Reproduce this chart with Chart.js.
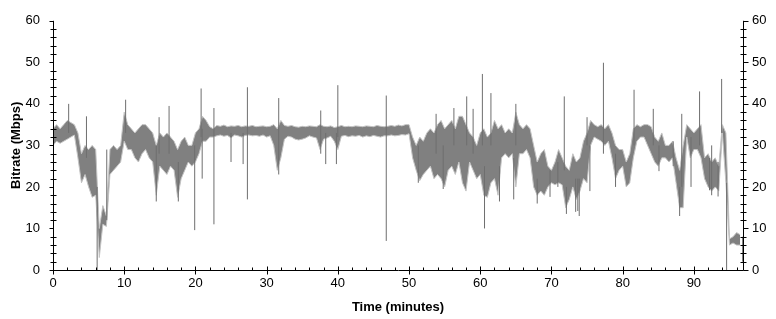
<!DOCTYPE html>
<html>
<head>
<meta charset="utf-8">
<script src="https://cdn.jsdelivr.net/npm/chart.js@4/dist/chart.umd.min.js"></script>
<style>
  html, body { margin: 0; padding: 0; background: #fff; }
  #wrap { width: 776px; height: 319px; position: relative; }
</style>
</head>
<body>
<div id="wrap"><canvas id="bitrateChart"></canvas></div>
<script>
// DONNEES - une valeur toutes les 0.5 minute
const STEP = 0.5;
const TIME_MAX = 96.9;

// bord haut de la bande (Mbps)
const bandHigh = [
  34, 35, 34, 35, 36, 35.5, 35, 33, 28, 30,
  29, 30, 29, 10, 15.5, 13, 29, 30, 29, 30,
  38, 35, 34, 33, 34, 35, 35, 34, 33, 30,
  33, 32, 33, 32, 31, 29, 31, 32, 30, 30,
  33, 34, 37, 36, 34.5, 34, 34.8, 34.6, 34.9, 34.5,
  34.7, 34.6, 34.8, 34.5, 34.7, 34.6, 34.8, 34.5, 34.6, 34.7,
  34.5, 34.6, 35, 34, 36, 34.8, 34.6, 34.8, 34.5, 34.4,
  34.6, 34.5, 34.7, 34.6, 34.5, 35, 34.6, 34.5, 34.7, 34.3,
  34.5, 34.8, 34.5, 34.6, 34.5, 34.7, 34.6, 34.5, 34.7, 34.6,
  34.5, 34.8, 34.6, 34.5, 34.6, 34.8, 34.6, 34.9, 34.7, 35,
  35, 32, 30, 32, 31, 33, 34, 33, 35, 36,
  34, 35, 36, 34, 37, 37, 35, 33, 32, 30,
  33, 34, 32, 33, 36, 34, 35, 33, 34, 33,
  38, 35, 34, 35, 34, 30, 26, 28, 29, 25,
  24, 26, 29, 27, 25, 24, 28, 26, 27, 31,
  33, 36, 35, 34.5, 35, 34, 35, 33, 30, 29,
  29, 26, 28, 34, 35, 34.5, 35, 35, 34.5, 32,
  31, 33, 30, 30, 31, 27, 24, 30, 35, 34,
  33, 34, 35, 27, 28, 26, 27, 25, 35, 33,
  7.5, 8, 9, 8.5
];

// bord bas de la bande (Mbps)
const bandLow = [
  30, 31, 30.5, 31, 31.5, 32, 32.5, 27, 21, 23,
  20, 17.5, 18, 3, 11, 10.5, 23, 24, 25, 26,
  31, 29, 29, 27, 26, 28, 29, 27, 26, 18,
  25, 24, 23, 25, 24, 17.5, 22, 24, 26, 25,
  26, 28, 31, 31, 32, 32, 32.3, 32.5, 32.2, 32.4,
  31.8, 32.5, 32.3, 32.0, 32.4, 32.5, 32.3, 32.4, 32.2, 32.5,
  32.0, 32.3, 30, 24, 27, 31.5, 32.2, 32.0, 31.5, 31.3,
  31.5, 31.8, 32.3, 32.0, 31.8, 29, 31.5, 31.8, 32.2, 31.0,
  29, 32.2, 32.4, 32.1, 32.3, 32.2, 32.4, 32.0, 32.3, 32.1,
  32.4, 32.2, 32.0, 32.3, 32.3, 32.5, 32.3, 32.4, 32.6, 32.5,
  32.8, 27, 24, 21.5, 23, 24, 25, 22, 23, 22,
  20, 24, 25, 23, 26, 21, 19, 26, 24, 22,
  23, 18, 17.5, 21, 22, 18, 27, 28, 27, 28,
  20, 28, 28, 29, 27, 20, 18, 19, 18, 20,
  21, 20.5, 21, 20.5, 15, 17, 20, 17, 19, 22,
  21, 30, 32, 31.5, 31, 30, 31, 27, 22, 24,
  25, 20, 21, 27, 31, 32, 32, 30, 28, 26,
  25, 27, 27, 26, 27, 21, 15, 15, 32, 27,
  29, 29, 27, 22, 20, 19, 20, 19, 33, 21,
  6, 6.5, 6, 6
];

// pics isolés (minute, bas, haut)
const spikeTime = [0.05, 2.2, 4.7, 6.2, 7.55, 10.2, 14.5, 14.9, 16.3, 17.6,
  19.9, 20.8, 20.95, 22.6, 25.0, 26.7, 27.3, 31.7, 37.6, 38.3,
  39.8, 40.0, 46.8, 51.3, 53.8, 54.8, 56.3, 58.1, 59.0, 60.3,
  60.6, 61.5, 62.7, 64.7, 65.0, 68.0, 69.8, 70.9, 71.8, 72.1,
  73.4, 73.7, 73.9, 75.0, 75.4, 77.3, 79.0, 81.6, 84.3, 85.1,
  87.1, 88.0, 88.3, 89.6, 90.8, 92.2, 92.5, 93.4, 93.9, 94.6,
  96.85];
const spikeLow = [0, 33, 27, 0, 12, 33, 16.5, 28, 28, 16.5,
  9.6, 32, 22, 11, 26, 25.5, 17, 23, 28, 25.5,
  25.5, 32, 7, 21, 28, 19.5, 30, 30, 28, 30,
  10, 30, 16.5, 17, 30, 16, 17.6, 20, 24, 13.5,
  14, 14.2, 13, 30, 19, 28, 20, 30, 30, 23.8,
  25, 13, 20, 20, 30, 19.2, 18, 17.7, 33, 0,
  2];
const spikeHigh = [40, 40, 37, 20, 29, 41, 30, 36.8, 39.5, 26,
  30, 43.7, 34, 39, 33, 33, 44, 41.4, 38.4, 33,
  33, 44.5, 42, 30, 37.6, 30, 39, 41.8, 38.8, 47.2,
  25, 42.6, 25, 27, 40, 22, 24, 26, 41.8, 20,
  22, 22, 22, 36.8, 30, 49.9, 28, 43.4, 38.8, 30,
  31, 20, 37.6, 32, 43, 27, 30, 26, 46, 21,
  8];

// construction des séries pour Chart.js
const highPts = bandHigh.map((v, i) => ({ x: i * STEP, y: v }));
const lowPts = bandLow.map((v, i) => ({ x: i * STEP, y: v }));
const spikePts = [];
spikeTime.forEach((t, i) => {
  spikePts.push({ x: t, y: spikeLow[i] }, { x: t, y: spikeHigh[i] }, { x: t, y: null });
});

// Axes façon "graphique Windows" : traits + graduations
const axisFrame = {
  id: 'axisFrame',
  afterDraw(chart) {
    const { ctx, chartArea: a, scales: { x, y } } = chart;
    const L = Math.round(a.left) + 0.5, R = Math.round(a.right) + 0.5, B = Math.round(a.bottom) + 0.5;
    ctx.save();
    ctx.strokeStyle = '#000';
    ctx.lineWidth = 1;
    ctx.beginPath();
    ctx.moveTo(L, a.top); ctx.lineTo(L, B); ctx.lineTo(R, B); ctx.lineTo(R, a.top);
    for (let v = 0; v <= 60; v += 2) {
      const py = Math.round(y.getPixelForValue(v)) + 0.5;
      if (v % 10 === 0) {
        ctx.moveTo(L - 4, py); ctx.lineTo(L, py);
        ctx.moveTo(R, py); ctx.lineTo(R + 5, py);
      } else {
        ctx.moveTo(L - 3, py); ctx.lineTo(L + 3, py);
        ctx.moveTo(R - 3, py); ctx.lineTo(R + 3, py);
      }
    }
    for (let t = 0; t <= 96; t += 2) {
      const px = Math.round(x.getPixelForValue(t)) + 0.5;
      if (t % 10 === 0) { ctx.moveTo(px, B - 4); ctx.lineTo(px, B + 4); }
      else { ctx.moveTo(px, B - 3); ctx.lineTo(px, B); }
    }
    ctx.stroke();
    ctx.restore();
  }
};

const tickFont = { family: "'Liberation Sans', Arial, sans-serif", size: 13 };
const titleFont = { family: "'Liberation Sans', Arial, sans-serif", size: 13, weight: 'bold' };

const ctx = document.getElementById('bitrateChart').getContext('2d');
new Chart(ctx, {
  type: 'line',
  data: {
    datasets: [
      { data: spikePts, borderColor: '#6e6e6e', borderWidth: 1, pointRadius: 0, spanGaps: false, fill: false, yAxisID: 'y' },
      { data: lowPts, borderColor: '#c4c4c4', borderWidth: 1, pointRadius: 0, fill: false, yAxisID: 'y' },
      { data: highPts, borderColor: '#c4c4c4', borderWidth: 1, pointRadius: 0, fill: '-1', backgroundColor: '#808080', yAxisID: 'y' }
    ]
  },
  options: {
    responsive: true,
    maintainAspectRatio: false,
    animation: false,
    layout: { padding: { top: 9, left: 0, right: 0, bottom: 0 } },
    plugins: { legend: { display: false }, tooltip: { enabled: false } },
    elements: { line: { tension: 0 } },
    scales: {
      x: {
        type: 'linear', min: 0, max: TIME_MAX, offset: false,
        grid: { display: false, drawTicks: false }, border: { display: false },
        ticks: { stepSize: 10, includeBounds: false, padding: 6, color: '#000', font: tickFont, maxRotation: 0, autoSkip: false },
        title: { display: true, text: 'Time (minutes)', color: '#000', font: titleFont, padding: { top: 0, bottom: 4 } },
        afterFit: (s) => { s.height = 49; }
      },
      y: {
        position: 'left', min: 0, max: 60,
        grid: { display: false, drawTicks: false }, border: { display: false },
        ticks: { stepSize: 10, padding: 13, color: '#000', font: tickFont },
        title: { display: true, text: 'Bitrate (Mbps)', color: '#000', font: titleFont, padding: { top: 9, bottom: 0 } },
        afterFit: (s) => { s.width = 53; }
      },
      y2: {
        position: 'right', min: 0, max: 60,
        grid: { display: false, drawTicks: false }, border: { display: false },
        ticks: { stepSize: 10, padding: 9, color: '#000', font: tickFont },
        afterFit: (s) => { s.width = 33; }
      }
    }
  },
  plugins: [axisFrame]
});
</script>
</body>
</html>
